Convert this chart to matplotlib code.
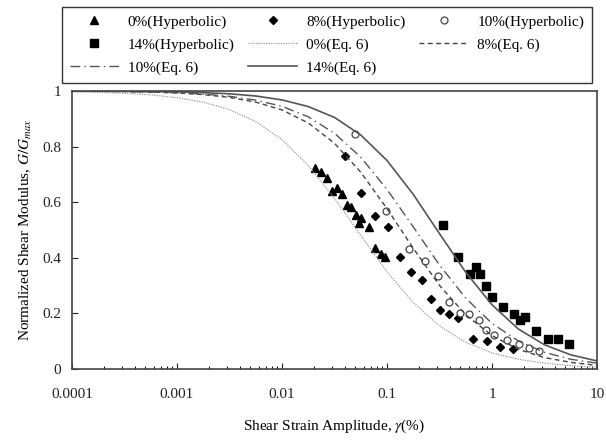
import matplotlib
matplotlib.use("Agg")
import matplotlib.pyplot as plt
from matplotlib.ticker import LogLocator, NullFormatter, FixedLocator

plt.rcParams['font.family'] = ['Liberation Serif', 'DejaVu Serif']
plt.rcParams['mathtext.fontset'] = 'stix'

# ---- data ----
tri_x = [0.0207, 0.0235, 0.0268, 0.0301, 0.0337, 0.0375, 0.0416, 0.0454, 0.0504, 0.0565, 0.0541, 0.0675, 0.0769, 0.0871, 0.0957]
tri_y = [0.722, 0.710, 0.687, 0.640, 0.652, 0.631, 0.590, 0.584, 0.554, 0.542, 0.524, 0.512, 0.436, 0.413, 0.404]

dia_x = [0.0398, 0.0565, 0.0774, 0.1014, 0.132, 0.170, 0.214, 0.262, 0.322, 0.392, 0.477, 0.655, 0.891, 1.20, 1.57]
dia_y = [0.766, 0.632, 0.550, 0.511, 0.404, 0.350, 0.320, 0.252, 0.212, 0.197, 0.182, 0.107, 0.102, 0.080, 0.071]

cir_x = [0.0499, 0.0984, 0.162, 0.229, 0.304, 0.392, 0.495, 0.604, 0.746, 0.877, 1.05, 1.38, 1.80, 2.27, 2.82]
cir_y = [0.846, 0.568, 0.431, 0.390, 0.336, 0.242, 0.200, 0.197, 0.176, 0.140, 0.121, 0.104, 0.089, 0.074, 0.066]

sq_x = [0.339, 0.471, 0.621, 0.700, 0.769, 0.877, 1.00, 1.28, 1.62, 1.84, 2.08, 2.62, 3.39, 4.28, 5.41]
sq_y = [0.519, 0.403, 0.341, 0.368, 0.341, 0.300, 0.258, 0.223, 0.198, 0.175, 0.188, 0.137, 0.107, 0.107, 0.090]

curve_x = [0.0001, 0.000178, 0.000316, 0.000562, 0.001, 0.00178, 0.00316, 0.00562,
           0.01, 0.0178, 0.0316, 0.0562, 0.1, 0.178, 0.316, 0.562, 1.0, 1.78, 3.16, 5.62, 10.0]
eq0_y = [0.997, 0.995, 0.992, 0.986, 0.976, 0.960, 0.933, 0.890, 0.825, 0.732, 0.614,
         0.481, 0.350, 0.239, 0.155, 0.096, 0.058, 0.035, 0.021, 0.012, 0.007]
eq8_y = [0.999, 0.999, 0.998, 0.996, 0.993, 0.987, 0.977, 0.960, 0.932, 0.885, 0.812,
         0.708, 0.577, 0.434, 0.301, 0.195, 0.120, 0.071, 0.041, 0.024, 0.013]
eq10_y = [0.999, 0.999, 0.998, 0.996, 0.994, 0.989, 0.981, 0.967, 0.945, 0.907, 0.848,
          0.762, 0.646, 0.511, 0.374, 0.255, 0.164, 0.101, 0.060, 0.035, 0.021]
eq14_y = [1.000, 0.999, 0.999, 0.998, 0.997, 0.994, 0.990, 0.982, 0.968, 0.944, 0.905,
          0.842, 0.750, 0.628, 0.487, 0.348, 0.231, 0.144, 0.087, 0.051, 0.029]

x_ticks = [0.0001, 0.001, 0.01, 0.1, 1, 10]
x_tick_labels = ['0.0001', '0.001', '0.01', '0.1', '1', '10']
y_ticks = [0, 0.2, 0.4, 0.6, 0.8, 1.0]
y_tick_labels = ['0', '0.2', '0.4', '0.6', '0.8', '1']

# ---- figure ----
fig = plt.figure(figsize=(6.06, 4.41), dpi=100)
ax = fig.add_axes([72/606, 1-369/441, 525/606, 278/441])

h_tri, = ax.plot(tri_x, tri_y, linestyle='none', marker='^', ms=5.5, color='black', label='0%(Hyperbolic)')
h_dia, = ax.plot(dia_x, dia_y, linestyle='none', marker='D', ms=4, color='black', label='8%(Hyperbolic)')
h_cir, = ax.plot(cir_x, cir_y, linestyle='none', marker='o', ms=5, mfc='white', mec='#444444', mew=0.9, label='10%(Hyperbolic)')
h_sq, = ax.plot(sq_x, sq_y, linestyle='none', marker='s', ms=6, color='black', label='14%(Hyperbolic)')

h_e0, = ax.plot(curve_x, eq0_y, color='#9a9a9a', lw=0.9, linestyle=(0, (1, 1)), label='0%(Eq. 6)')
h_e8, = ax.plot(curve_x, eq8_y, color='#444444', lw=1.0, linestyle=(0, (3.5, 2.5)), label='8%(Eq. 6)')
h_e10, = ax.plot(curve_x, eq10_y, color='#555555', lw=1.0, linestyle=(0, (7, 3, 1, 3)), label='10%(Eq. 6)')
h_e14, = ax.plot(curve_x, eq14_y, color='#555555', lw=1.2, linestyle='-', label='14%(Eq. 6)')

ax.set_xscale('log')
ax.set_xlim(0.0001, 10)
ax.set_ylim(0, 1)
ax.xaxis.set_major_locator(FixedLocator(x_ticks))
ax.set_xticklabels(x_tick_labels)
ax.xaxis.set_minor_locator(LogLocator(base=10, subs=range(2, 10), numticks=20))
ax.xaxis.set_minor_formatter(NullFormatter())
ax.set_yticks(y_ticks)
ax.set_yticklabels(y_tick_labels)

ax.tick_params(axis='both', which='major', direction='in', length=4, width=0.8, labelsize=11, colors='#222222')
ax.tick_params(axis='x', which='minor', direction='in', length=2.5, width=0.7)
ax.tick_params(axis='x', which='major', pad=14)
ax.tick_params(axis='y', which='major', pad=8)
for s in ax.spines.values():
    s.set_color('#444444')
    s.set_linewidth(1.2)

ax.set_xlabel(r'Shear Strain Amplitude, $\gamma$(%)', fontsize=11, labelpad=12)
ax.set_ylabel(r'Normalized Shear Modulus, $G/G_{max}$', fontsize=11, labelpad=6)

handles = [h_tri, h_sq, h_e10, h_dia, h_e0, h_e14, h_cir, h_e8]
leg = fig.legend(handles=handles, labels=[h.get_label() for h in handles], ncol=3,
                 loc='center', bbox_to_anchor=(62/606, 1-82/441, 530/606, 74/441),
                 mode='expand', fontsize=11, frameon=True, fancybox=False,
                 edgecolor='black', handlelength=3.2, labelspacing=0.6,
                 borderaxespad=0, borderpad=0.5, columnspacing=1.5, handletextpad=0.6)
leg.get_frame().set_linewidth(1.0)

fig.savefig('out.png', dpi=100)
